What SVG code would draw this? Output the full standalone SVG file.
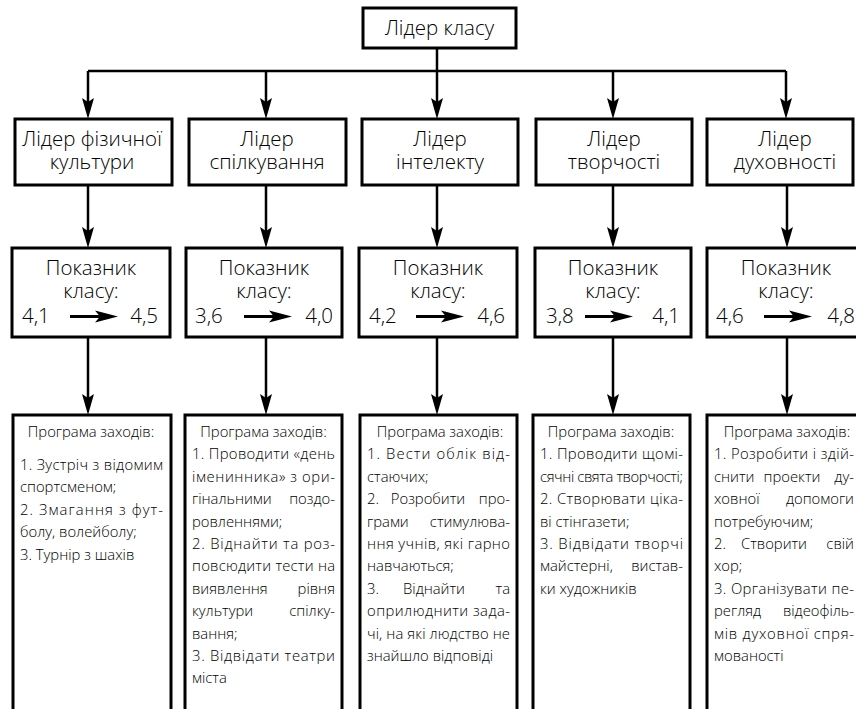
<svg xmlns="http://www.w3.org/2000/svg" width="856" height="709" viewBox="0 0 856 709">
<style>
.box{fill:#fff;stroke:#000;stroke-width:3}
.wire{fill:none;stroke:#000;stroke-width:2.5}
text{font-family:"Open Sans","Noto Sans",sans-serif;fill:#000;font-weight:300}
.big{font-size:20.5px;text-anchor:middle}
.sm{font-size:14.8px}
.c{text-anchor:middle}
.e{text-anchor:end}
.s{text-anchor:start}
</style>
<defs>
<marker id="ah" markerUnits="userSpaceOnUse" markerWidth="30" markerHeight="16" viewBox="-12 -8 30 16" refX="0" refY="0" orient="auto" overflow="visible">
<path d="M10,0 L-11,-6 L-7,0 L-11,6 Z" fill="#000"/>
</marker>
<g id="na"><path d="M0,0 H30" stroke="#000" stroke-width="3"/><path d="M48,0 L25,-6 L30,0 L25,6 Z" fill="#000"/></g>
</defs>

<g id="connectors">
<path class="wire" d="M437,48 V71 M88,71 H786"/>
<path class="wire" marker-end="url(#ah)" d="M88,71 V109"/>
<path class="wire" marker-end="url(#ah)" d="M266,71 V109"/>
<path class="wire" marker-end="url(#ah)" d="M437,71 V109"/>
<path class="wire" marker-end="url(#ah)" d="M613,71 V109"/>
<path class="wire" marker-end="url(#ah)" d="M786,71 V109"/>
<path class="wire" marker-end="url(#ah)" d="M88,185 V238"/>
<path class="wire" marker-end="url(#ah)" d="M266,185 V238"/>
<path class="wire" marker-end="url(#ah)" d="M437,185 V238"/>
<path class="wire" marker-end="url(#ah)" d="M613,185 V238"/>
<path class="wire" marker-end="url(#ah)" d="M787,185 V238"/>
<path class="wire" marker-end="url(#ah)" d="M88,337 V405"/>
<path class="wire" marker-end="url(#ah)" d="M266,337 V405"/>
<path class="wire" marker-end="url(#ah)" d="M437,337 V405"/>
<path class="wire" marker-end="url(#ah)" d="M613,337 V405"/>
<path class="wire" marker-end="url(#ah)" d="M787,337 V405"/>
</g>

<g id="leader">
<rect class="box" x="363" y="8" width="153" height="40"/>
<text class="big" x="439.5" y="35">Лідер класу</text>
</g>

<g id="l1"><rect class="box" x="15" y="119" width="157" height="66"/>
<text class="big"><tspan x="92" y="146">Лідер фізичної</tspan><tspan x="92" y="169">культури</tspan></text></g>
<g id="l2"><rect class="box" x="189" y="119" width="157" height="66"/>
<text class="big"><tspan x="267" y="146">Лідер</tspan><tspan x="267" y="169">спілкування</tspan></text></g>
<g id="l3"><rect class="box" x="362" y="119" width="156" height="66"/>
<text class="big"><tspan x="440" y="146">Лідер</tspan><tspan x="440" y="169">інтелекту</tspan></text></g>
<g id="l4"><rect class="box" x="536" y="119" width="156" height="66"/>
<text class="big"><tspan x="614" y="146">Лідер</tspan><tspan x="614" y="169">творчості</tspan></text></g>
<g id="l5"><rect class="box" x="707" y="119" width="146" height="66"/>
<text class="big"><tspan x="785" y="146">Лідер</tspan><tspan x="785" y="169">духовності</tspan></text></g>

<g id="p1"><rect class="box" x="12" y="248" width="158" height="89"/>
<text class="big"><tspan x="91" y="275">Показник</tspan><tspan x="91" y="298">класу:</tspan><tspan class="s" x="22" y="323">4,1</tspan><tspan class="e" x="158" y="323">4,5</tspan></text>
<use href="#na" x="70" y="316.5"/></g>
<g id="p2"><rect class="box" x="186" y="248" width="156" height="89"/>
<text class="big"><tspan x="264" y="275">Показник</tspan><tspan x="264" y="298">класу:</tspan><tspan class="s" x="195" y="323">3,6</tspan><tspan class="e" x="333" y="323">4,0</tspan></text>
<use href="#na" x="244" y="316.5"/></g>
<g id="p3"><rect class="box" x="359" y="248" width="158" height="89"/>
<text class="big"><tspan x="438" y="275">Показник</tspan><tspan x="438" y="298">класу:</tspan><tspan class="s" x="369" y="323">4,2</tspan><tspan class="e" x="505" y="323">4,6</tspan></text>
<use href="#na" x="416" y="316.5"/></g>
<g id="p4"><rect class="box" x="535" y="248" width="156" height="89"/>
<text class="big"><tspan x="613" y="275">Показник</tspan><tspan x="613" y="298">класу:</tspan><tspan class="s" x="546" y="323">3,8</tspan><tspan class="e" x="680" y="323">4,1</tspan></text>
<use href="#na" x="585" y="316.5"/></g>
<g id="p5"><rect class="box" x="707" y="248" width="170" height="89"/>
<text class="big"><tspan x="786" y="275">Показник</tspan><tspan x="786" y="298">класу:</tspan><tspan class="s" x="716" y="323">4,6</tspan><tspan class="e" x="855" y="323">4,8</tspan></text>
<use href="#na" x="764" y="316.5"/></g>

<g id="r1"><rect class="box" x="13" y="415" width="158" height="310"/>
<text class="sm c" x="91" y="437">Програма заходів:</text>
<text class="sm" x="20" y="470" textLength="143" lengthAdjust="spacing">1. Зустріч з відомим</text>
<text class="sm" x="20" y="492.4">спортсменом;</text>
<text class="sm" x="20" y="514.8" textLength="143" lengthAdjust="spacing">2. Змагання з фут-</text>
<text class="sm" x="20" y="537.2">болу, волейболу;</text>
<text class="sm" x="20" y="559.6">3. Турнір з шахів</text>
</g>

<g id="r2"><rect class="box" x="185" y="415" width="157" height="310"/>
<text class="sm c" x="263.5" y="437">Програма заходів:</text>
<text class="sm" x="192" y="459.4" textLength="143" lengthAdjust="spacing">1. Проводити «день</text>
<text class="sm" x="192" y="481.8" textLength="143" lengthAdjust="spacing">іменинника» з ори-</text>
<text class="sm" y="504.2"><tspan x="192">гінальними</tspan><tspan x="335" text-anchor="end">поздо-</tspan></text>
<text class="sm" x="192" y="526.6">ровленнями;</text>
<text class="sm" x="192" y="549" textLength="143" lengthAdjust="spacing">2. Віднайти та роз-</text>
<text class="sm" x="192" y="571.4" textLength="143" lengthAdjust="spacing">повсюдити тести на</text>
<text class="sm" y="593.8"><tspan x="192">виявлення</tspan><tspan x="335" text-anchor="end">рівня</tspan></text>
<text class="sm" y="616.2"><tspan x="192">культури</tspan><tspan x="335" text-anchor="end">спілку-</tspan></text>
<text class="sm" x="192" y="638.6">вання;</text>
<text class="sm" x="192" y="661" textLength="143" lengthAdjust="spacing">3. Відвідати театри</text>
<text class="sm" x="192" y="683.4">міста</text>
</g>

<g id="r3"><rect class="box" x="360" y="415" width="157" height="310"/>
<text class="sm c" x="440" y="437">Програма заходів:</text>
<text class="sm" x="367" y="459.4" textLength="143" lengthAdjust="spacing">1. Вести облік від-</text>
<text class="sm" x="367" y="481.8">стаючих;</text>
<text class="sm" y="504.2"><tspan x="367">2.</tspan><tspan x="428" text-anchor="middle">Розробити</tspan><tspan x="510" text-anchor="end">про-</tspan></text>
<text class="sm" y="526.6"><tspan x="367">грами</tspan><tspan x="510" text-anchor="end">стимулюва-</tspan></text>
<text class="sm" x="367" y="549" textLength="143" lengthAdjust="spacing">ння учнів, які гарно</text>
<text class="sm" x="367" y="571.4">навчаються;</text>
<text class="sm" y="593.8"><tspan x="367">3.</tspan><tspan x="434" text-anchor="middle">Віднайти</tspan><tspan x="510" text-anchor="end">та</tspan></text>
<text class="sm" x="367" y="616.2" textLength="143" lengthAdjust="spacing">оприлюднити зада-</text>
<text class="sm" x="367" y="638.6" textLength="143" lengthAdjust="spacing">чі, на які людство не</text>
<text class="sm" x="367" y="661">знайшло відповіді</text>
</g>

<g id="r4"><rect class="box" x="533" y="415" width="157" height="310"/>
<text class="sm c" x="611" y="437">Програма заходів:</text>
<text class="sm" x="540" y="459.4" textLength="143" lengthAdjust="spacing">1. Проводити щомі-</text>
<text class="sm" x="540" y="481.8" textLength="143" lengthAdjust="spacing">сячні свята творчості;</text>
<text class="sm" x="540" y="504.2" textLength="143" lengthAdjust="spacing">2. Створювати ціка-</text>
<text class="sm" x="540" y="526.6">ві стінгазети;</text>
<text class="sm" x="540" y="549" textLength="143" lengthAdjust="spacing">3. Відвідати творчі</text>
<text class="sm" y="571.4"><tspan x="540">майстерні,</tspan><tspan x="683" text-anchor="end">вистав-</tspan></text>
<text class="sm" x="540" y="593.8">ки художників</text>
</g>

<g id="r5"><rect class="box" x="707" y="415" width="170" height="310"/>
<text class="sm c" x="787" y="437">Програма заходів:</text>
<text class="sm" x="714" y="459.4" textLength="140" lengthAdjust="spacing">1. Розробити і здій-</text>
<text class="sm" y="481.8"><tspan x="714">снити</tspan><tspan x="792" text-anchor="middle">проекти</tspan><tspan x="854" text-anchor="end">ду-</tspan></text>
<text class="sm" y="504.2"><tspan x="714">ховної</tspan><tspan x="854" text-anchor="end">допомоги</tspan></text>
<text class="sm" x="714" y="526.6">потребуючим;</text>
<text class="sm" y="549"><tspan x="714">2.</tspan><tspan x="774" text-anchor="middle">Створити</tspan><tspan x="854" text-anchor="end">свій</tspan></text>
<text class="sm" x="714" y="571.4">хор;</text>
<text class="sm" x="714" y="593.8" textLength="140" lengthAdjust="spacing">3. Організувати пе-</text>
<text class="sm" y="616.2"><tspan x="714">регляд</tspan><tspan x="854" text-anchor="end">відеофіль-</tspan></text>
<text class="sm" x="714" y="638.6" textLength="140" lengthAdjust="spacing">мів духовної спря-</text>
<text class="sm" x="714" y="661">мованості</text>
</g>
</svg>
